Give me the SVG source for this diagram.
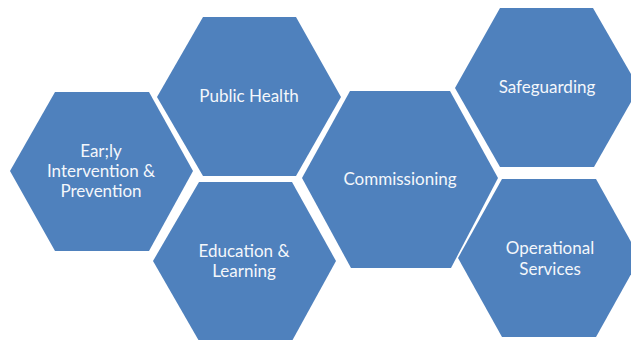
<svg xmlns="http://www.w3.org/2000/svg" width="631" height="340" viewBox="0 0 631 340">
<style>
.hex{fill:#4F81BD}
.t{font-family:Lato,"Open Sans","DejaVu Sans",sans-serif;font-size:17px;fill:#F4F7FB;text-anchor:middle}
</style>
<rect width="631" height="340" fill="#FFFFFF"/>
<g id="early">
<polygon class="hex" points="10,171 55,92 149,92 193,171 149,251 55,251"/>
<text class="t" x="101" y="157">Ear;ly</text>
<text class="t" x="101" y="177">Intervention &amp;</text>
<text class="t" x="101" y="197">Prevention</text>
</g>
<g id="public-health">
<polygon class="hex" points="157,97 203,17 296,17 341,97 296,176 203,176"/>
<text class="t" x="249" y="102">Public Health</text>
</g>
<g id="education">
<polygon class="hex" points="153,261 199,182 292,182 336,261 292,341 199,341"/>
<text class="t" x="244" y="257">Education &amp;</text>
<text class="t" x="244" y="277">Learning</text>
</g>
<g id="commissioning">
<polygon class="hex" points="302,178 350,91 450,91 498,178 451,268 351,268"/>
<text class="t" x="400" y="185">Commissioning</text>
</g>
<g id="safeguarding">
<polygon class="hex" points="455,88 500,8 593,8 639,88 594,167 500,167"/>
<text class="t" x="547" y="93">Safeguarding</text>
</g>
<g id="operational">
<polygon class="hex" points="458,258 502,179 596,179 640,258 596,337 502,337"/>
<text class="t" x="550" y="254">Operational</text>
<text class="t" x="550" y="275">Services</text>
</g>
<g id="connectors"></g>
</svg>
